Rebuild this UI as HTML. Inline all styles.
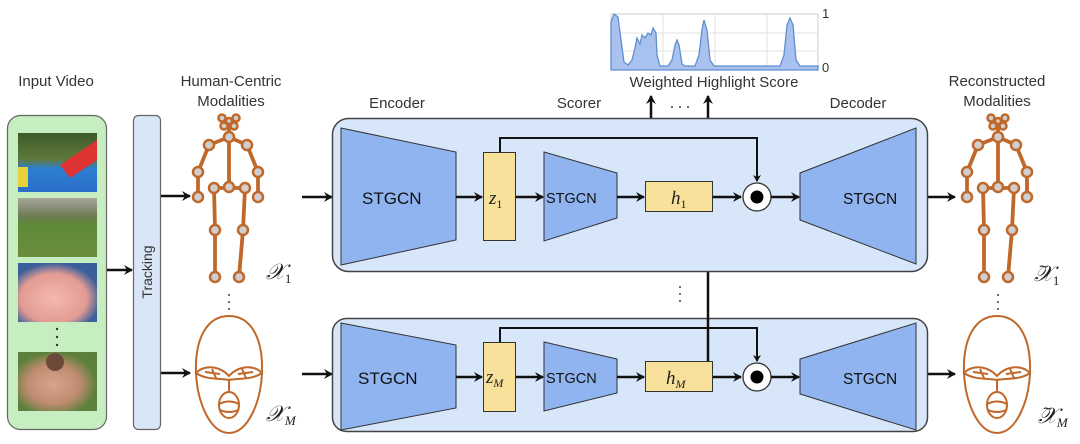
<!DOCTYPE html>
<html><head><meta charset="utf-8"><style>
html,body{margin:0;padding:0;background:#fff;}
svg{display:block;}
text{font-family:"Liberation Sans",sans-serif;}
.lbl{font-size:15px;fill:#333;}
.m{font-family:"Liberation Serif",serif;font-style:italic;}
</style></head><body>
<svg width="1080" height="444" viewBox="0 0 1080 444" xmlns="http://www.w3.org/2000/svg">
<defs>
<marker id="ah" markerWidth="10" markerHeight="10" refX="8" refY="5" orient="auto" markerUnits="userSpaceOnUse">
<path d="M0,0 L9,5 L0,10 L3,5 z" fill="#111"/></marker>
<marker id="ahs" markerWidth="8" markerHeight="8" refX="6" refY="4" orient="auto" markerUnits="userSpaceOnUse">
<path d="M0,0 L7,4 L0,8 L2,4 z" fill="#111"/></marker>
<g id="skel" stroke="#c0682a" stroke-width="3.8" fill="#cfcfcf">
<path d="M229,121 L229,187 M209,145 L229,137 L247,145 M209,145 L198,172 L198,197 M247,145 L258,172 L258,197 M214,188 L245,188 M214,188 L215,230 L215,277 M245,188 L243,230 L239,277 M222,118 L229,121 L236,118" fill="none"/>
<g stroke-width="2.5">
<circle cx="222" cy="118" r="3.5"/><circle cx="236" cy="118" r="3.5"/><circle cx="224" cy="126" r="3.5"/><circle cx="234" cy="126" r="3.5"/><circle cx="229" cy="121" r="3"/>
<circle cx="229" cy="137" r="5"/><circle cx="209" cy="145" r="5"/><circle cx="247" cy="145" r="5"/>
<circle cx="198" cy="172" r="5"/><circle cx="258" cy="172" r="5"/><circle cx="198" cy="197" r="5"/><circle cx="258" cy="197" r="5"/>
<circle cx="214" cy="188" r="5"/><circle cx="229" cy="187" r="5"/><circle cx="245" cy="188" r="5"/>
<circle cx="215" cy="230" r="5"/><circle cx="243" cy="230" r="5"/><circle cx="215" cy="277" r="5"/><circle cx="239" cy="277" r="5"/>
</g></g>
<g id="face" stroke="#c0682a" stroke-width="2" fill="none">
<path d="M229,316 C252,316 263,340 262,372 C261,402 248,433 229,433 C210,433 197,402 196,372 C195,340 206,316 229,316 Z"/>
<path d="M196,373 C205,364 220,366 229,376 C238,366 253,364 262,373 C252,380 240,378 229,380 C218,378 206,380 196,373 Z"/>
<path d="M205,372 L220,374 M238,374 L253,372 M212,369 L216,378 M242,369 L246,378 M229,380 L229,392"/>
<ellipse cx="229" cy="405" rx="10" ry="13"/>
<path d="M219,404 Q229,399 239,404 M220,410 Q229,414 238,410"/>
</g>
</defs>
<rect width="1080" height="444" fill="#fff"/>

<text x="56" y="86" text-anchor="middle" class="lbl">Input Video</text>
<text x="231" y="86" text-anchor="middle" class="lbl">Human-Centric</text>
<text x="231" y="106" text-anchor="middle" class="lbl">Modalities</text>
<text x="397" y="108" text-anchor="middle" class="lbl">Encoder</text>
<text x="579" y="108" text-anchor="middle" class="lbl">Scorer</text>
<text x="858" y="108" text-anchor="middle" class="lbl">Decoder</text>
<text x="997" y="86" text-anchor="middle" class="lbl">Reconstructed</text>
<text x="997" y="106" text-anchor="middle" class="lbl">Modalities</text>

<rect x="7.5" y="115.5" width="99" height="314" rx="13" fill="#c6eec0" stroke="#666" stroke-width="1.2"/>
<defs>
<linearGradient id="f1" x1="0" y1="0" x2="0" y2="1"><stop offset="0" stop-color="#3d5a2a"/><stop offset="0.45" stop-color="#5f7a3c"/><stop offset="0.6" stop-color="#2c7fd0"/><stop offset="1" stop-color="#2a6fc9"/></linearGradient>
<linearGradient id="f2" x1="0" y1="0" x2="0" y2="1"><stop offset="0" stop-color="#a9a79c"/><stop offset="0.3" stop-color="#6e7a55"/><stop offset="0.45" stop-color="#5f8a36"/><stop offset="1" stop-color="#6b8c3e"/></linearGradient>
<radialGradient id="f3" cx="0.45" cy="0.6" r="0.6"><stop offset="0" stop-color="#f3b9b0"/><stop offset="0.7" stop-color="#e29b93"/><stop offset="1" stop-color="#3a5f9a"/></radialGradient>
<radialGradient id="f4" cx="0.45" cy="0.55" r="0.55"><stop offset="0" stop-color="#d7a48e"/><stop offset="0.6" stop-color="#c08c70"/><stop offset="1" stop-color="#5c7f3c"/></radialGradient>
</defs>
<rect x="18" y="133" width="79" height="59" fill="url(#f1)"/>
<path d="M60,165 L97,140 L97,160 L70,178 Z" fill="#d33"/><rect x="18" y="167" width="10" height="20" fill="#e8d23a"/>
<rect x="18" y="198" width="79" height="59" fill="url(#f2)"/>
<rect x="18" y="263" width="79" height="59" fill="url(#f3)"/>
<circle cx="57" cy="345" r="1.2" fill="#333"/><circle cx="57" cy="337" r="1.2" fill="#333"/><circle cx="57" cy="329" r="1.2" fill="#333"/>
<rect x="18" y="352" width="79" height="59" fill="url(#f4)"/>
<circle cx="55" cy="362" r="9" fill="#6b4a3a"/>

<rect x="133.5" y="115.5" width="27" height="314" rx="5" fill="#d9e6f8" stroke="#666" stroke-width="1.2"/>
<text transform="translate(152,272) rotate(-90)" text-anchor="middle" font-size="14" fill="#333">Tracking</text>

<g stroke="#111" stroke-width="2.5" fill="none" marker-end="url(#ah)">
<line x1="107" y1="270" x2="132" y2="270"/>
<line x1="161" y1="196" x2="190" y2="196"/>
<line x1="161" y1="373" x2="190" y2="373"/>
<line x1="302" y1="197" x2="332" y2="197"/>
<line x1="302" y1="374" x2="332" y2="374"/>
<line x1="928" y1="197" x2="955" y2="197"/>
<line x1="928" y1="374" x2="955" y2="374"/>
</g>

<use href="#skel"/>
<use href="#face"/>
<use href="#skel" x="769"/>
<use href="#face" x="768"/>
<g fill="#444">
<circle cx="229" cy="295" r="1"/><circle cx="229" cy="302" r="1"/><circle cx="229" cy="309" r="1"/>
<circle cx="998" cy="295" r="1"/><circle cx="998" cy="302" r="1"/><circle cx="998" cy="309" r="1"/>
<circle cx="680" cy="287" r="1"/><circle cx="680" cy="294" r="1"/><circle cx="680" cy="301" r="1"/>
<circle cx="672" cy="107" r="1"/><circle cx="680" cy="107" r="1"/><circle cx="688" cy="107" r="1"/>
</g>
<text x="266" y="279" font-size="22" class="m" fill="#222">𝒳<tspan font-size="13" dy="4" font-style="normal">1</tspan></text>
<text x="266" y="421" font-size="22" class="m" fill="#222">𝒳<tspan font-size="13" dy="4">M</tspan></text>
<text x="1034" y="281" font-size="22" class="m" fill="#222">𝒳<tspan font-size="13" dy="4" font-style="normal">1</tspan></text>
<text x="1039" y="272" font-size="16" fill="#222">~</text>
<text x="1038" y="423" font-size="22" class="m" fill="#222">𝒳<tspan font-size="13" dy="4">M</tspan></text>
<text x="1043" y="414" font-size="16" fill="#222">~</text>

<rect x="611" y="14" width="207" height="56" fill="#fff" stroke="#ccc"/>
<g stroke="#e2e2e2"><line x1="663" y1="14" x2="663" y2="70"/><line x1="715" y1="14" x2="715" y2="70"/><line x1="767" y1="14" x2="767" y2="70"/><line x1="611" y1="33" x2="818" y2="33"/><line x1="611" y1="51" x2="818" y2="51"/></g>
<path d="M611,70 L611,22 L614,14 L618,17 L621,40 L624,62 L628,65 L632,60 L635,48 L637,38 L640,44 L642,35 L645,38 L648,33 L651,35 L653,28 L656,33 L657,55 L660,66 L668,66 L672,60 L675,45 L677,40 L679,45 L682,64 L685,66 L695,66 L699,55 L702,30 L704,20 L707,30 L710,60 L714,66 L780,66 L784,55 L787,25 L790,18 L793,25 L796,60 L800,66 L818,66 L818,70 Z" fill="#a9c1ee" stroke="#5f8fcf" stroke-width="1.3"/>
<text x="822" y="18" font-size="13" fill="#333">1</text>
<text x="822" y="72" font-size="13" fill="#333">0</text>
<text x="714" y="87" text-anchor="middle" font-size="15" fill="#333">Weighted Highlight Score</text>

<g stroke="#111" stroke-width="2.5" fill="none">
<line x1="651" y1="181" x2="651" y2="96" marker-end="url(#ah)"/>
<line x1="708" y1="118" x2="708" y2="96" marker-end="url(#ah)"/>
<line x1="708" y1="272" x2="708" y2="361"/>
</g>

<g>
<rect x="332.5" y="118.5" width="595" height="153" rx="16" fill="#d8e6fa" stroke="#444" stroke-width="1.5"/>
<path d="M341,128 L456,152 L456,240 L341,265 Z" fill="#8fb4ef" stroke="#333" stroke-width="1"/>
<path d="M544,152 L617,173 L617,218 L544,241 Z" fill="#8fb4ef" stroke="#333" stroke-width="1"/>
<path d="M800,173 L916,128 L916,264 L800,220 Z" fill="#8fb4ef" stroke="#333" stroke-width="1"/>
<rect x="483.5" y="152.5" width="32" height="88" fill="#f8e19a" stroke="#333" stroke-width="1"/>
<rect x="645.5" y="181.5" width="67" height="30" fill="#f8e19a" stroke="#333" stroke-width="1"/>
<circle cx="757" cy="197" r="14" fill="#fff" stroke="#333" stroke-width="1.3"/>
<circle cx="757" cy="197" r="6.5" fill="#000"/>
<path d="M500,152 L500,138 L757,138 L757,181" stroke="#111" stroke-width="2" fill="none" marker-end="url(#ahs)"/>
<g stroke="#111" stroke-width="2.5" fill="none" marker-end="url(#ah)">
<line x1="456" y1="197" x2="482" y2="197"/>
<line x1="516" y1="197" x2="543" y2="197"/>
<line x1="617" y1="197" x2="644" y2="197"/>
<line x1="713" y1="197" x2="741" y2="197"/>
<line x1="771" y1="197" x2="799" y2="197"/>
</g>
<text x="362" y="204" font-size="17" fill="#111">STGCN</text>
<text x="546" y="203" font-size="14.5" fill="#111">STGCN</text>
<text x="843" y="204" font-size="15.5" fill="#111">STGCN</text>
</g>
<text x="489" y="204" font-size="19" class="m" fill="#222">z<tspan font-size="12" dy="4" font-style="normal">1</tspan></text>
<text x="671" y="204" font-size="19" class="m" fill="#222">h<tspan font-size="12" dy="4" font-style="normal">1</tspan></text>

<g>
<rect x="332.5" y="318.5" width="595" height="113" rx="14" fill="#d8e6fa" stroke="#444" stroke-width="1.5"/>
<path d="M341,323 L456,345 L456,408 L341,430 Z" fill="#8fb4ef" stroke="#333" stroke-width="1"/>
<path d="M544,342 L617,359 L617,393 L544,411 Z" fill="#8fb4ef" stroke="#333" stroke-width="1"/>
<path d="M800,359 L916,323 L916,430 L800,394 Z" fill="#8fb4ef" stroke="#333" stroke-width="1"/>
<rect x="483.5" y="342.5" width="32" height="69" fill="#f8e19a" stroke="#333" stroke-width="1"/>
<rect x="645.5" y="361.5" width="67" height="30" fill="#f8e19a" stroke="#333" stroke-width="1"/>
<circle cx="757" cy="377" r="14" fill="#fff" stroke="#333" stroke-width="1.3"/>
<circle cx="757" cy="377" r="6.5" fill="#000"/>
<path d="M500,342 L500,328 L757,328 L757,361" stroke="#111" stroke-width="2" fill="none" marker-end="url(#ahs)"/>
<line x1="708" y1="318" x2="708" y2="361" stroke="#111" stroke-width="2.5"/>
<g stroke="#111" stroke-width="2.5" fill="none" marker-end="url(#ah)">
<line x1="456" y1="377" x2="482" y2="377"/>
<line x1="516" y1="377" x2="543" y2="377"/>
<line x1="617" y1="377" x2="644" y2="377"/>
<line x1="713" y1="377" x2="741" y2="377"/>
<line x1="771" y1="377" x2="799" y2="377"/>
</g>
<text x="358" y="384" font-size="17" fill="#111">STGCN</text>
<text x="546" y="383" font-size="14.5" fill="#111">STGCN</text>
<text x="843" y="384" font-size="15.5" fill="#111">STGCN</text>
</g>
<text x="486" y="383" font-size="19" class="m" fill="#222">z<tspan font-size="12" dy="4">M</tspan></text>
<text x="666" y="384" font-size="19" class="m" fill="#222">h<tspan font-size="12" dy="4">M</tspan></text>
</svg>
</body></html>
